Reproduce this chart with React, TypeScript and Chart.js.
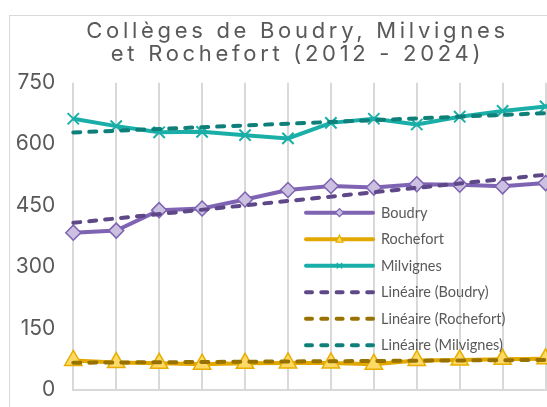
import React, { useEffect, useRef } from "react";
import { Chart, registerables } from "chart.js";

Chart.register(...registerables);

const TITLE_LINES = ["Collèges de Boudry, Milvignes", "et Rochefort (2012 - 2024)"];
const YEARS = ["2012", "2013", "2014", "2015", "2016", "2017", "2018", "2019", "2020", "2021", "2022", "2023", "2024"];
const BOUDRY = [384, 389, 439, 443, 465, 488, 498, 494, 502, 501, 497, 505, 510];
const ROCHEFORT = [72, 67, 65, 63, 65, 66, 66, 63, 72, 73, 75, 76, 77];
const MILVIGNES = [662, 644, 629, 630, 622, 614, 652, 662, 648, 667, 681, 692, 700];
// trend line end values (2012, 2024)
const TREND_BOUDRY = [408, 536];
const TREND_ROCHEFORT = [66.5, 74];
const TREND_MILVIGNES = [628.5, 680];
const Y_TICKS = [0, 150, 300, 450, 600, 750];
const SERIES_NAMES = ["Boudry", "Rochefort", "Milvignes", "Linéaire (Boudry)", "Linéaire (Rochefort)", "Linéaire (Milvignes)"];

const TEXT_COLOR = "#595959";
const GRID_COLOR = "#D9D9D9";

function drawMarker(ctx: CanvasRenderingContext2D, style: string, x: number, y: number, r: number) {
  ctx.beginPath();
  if (style === "rectRot") {
    ctx.moveTo(x, y - r);
    ctx.lineTo(x + r, y);
    ctx.lineTo(x, y + r);
    ctx.lineTo(x - r, y);
    ctx.closePath();
    ctx.fill();
    ctx.stroke();
  } else if (style === "triangle") {
    const h = r * 1.5;
    ctx.moveTo(x, y - h / 2 - 1);
    ctx.lineTo(x + r * 0.87, y + h / 2);
    ctx.lineTo(x - r * 0.87, y + h / 2);
    ctx.closePath();
    ctx.fill();
    ctx.stroke();
  } else if (style === "crossRot") {
    const d = r * 0.7;
    ctx.moveTo(x - d, y - d);
    ctx.lineTo(x + d, y + d);
    ctx.moveTo(x + d, y - d);
    ctx.lineTo(x - d, y + d);
    ctx.stroke();
  }
}

const titlePlugin = {
  id: "customTitle",
  afterDraw(chart: any) {
    const ctx: CanvasRenderingContext2D = chart.ctx;
    ctx.save();
    ctx.font = "400 22px Inter";
    (ctx as any).letterSpacing = "3.7px";
    ctx.fillStyle = TEXT_COLOR;
    ctx.textAlign = "center";
    ctx.textBaseline = "alphabetic";
    TITLE_LINES.forEach((line, i) => {
      ctx.fillText(line, 297.5, 37.5 + i * 23.7);
    });
    ctx.restore();
  },
};

const legendPlugin = {
  id: "overlayLegend",
  afterDraw(chart: any) {
    const ctx: CanvasRenderingContext2D = chart.ctx;
    const x0 = 304;
    const x1 = 375;
    const top = 212.7;
    const gap = 26.5;
    chart.data.datasets.forEach((ds: any, i: number) => {
      const y = top + i * gap;
      ctx.save();
      ctx.strokeStyle = ds.borderColor;
      ctx.lineWidth = 4;
      ctx.lineCap = "round";
      ctx.setLineDash(ds.borderDash ? [6, 9.3] : []);
      ctx.beginPath();
      ctx.moveTo(x0 + 2, y);
      ctx.lineTo(x1 - 2, y);
      ctx.stroke();
      ctx.setLineDash([]);
      if (ds.pointRadius > 0) {
        ctx.fillStyle = ds.pointBackgroundColor;
        ctx.strokeStyle = ds.pointBorderColor;
        ctx.lineWidth = 1.2;
        ctx.lineCap = "butt";
        drawMarker(ctx, ds.pointStyle, (x0 + x1) / 2, y, 4);
      }
      ctx.font = "14.5px Lato";
      ctx.fillStyle = TEXT_COLOR;
      ctx.textAlign = "left";
      ctx.textBaseline = "middle";
      ctx.fillText(SERIES_NAMES[i], 381, y + 0.5);
      ctx.restore();
    });
  },
};

export default function App() {
  const canvasRef = useRef<HTMLCanvasElement | null>(null);

  useEffect(() => {
    if (!canvasRef.current) return;
    const dash = [7, 9];
    const chart = new Chart(canvasRef.current, {
      type: "line",
      data: {
        labels: YEARS,
        datasets: [
          {
            label: SERIES_NAMES[0],
            data: BOUDRY,
            borderColor: "#8064B4",
            borderWidth: 4,
            pointStyle: "rectRot",
            pointRadius: 7.5,
            pointBackgroundColor: "#CBC0E0",
            pointBorderColor: "#7E62B2",
            pointBorderWidth: 1.5,
            order: 2,
          },
          {
            label: SERIES_NAMES[1],
            data: ROCHEFORT,
            borderColor: "#E2A800",
            borderWidth: 4,
            pointStyle: "triangle",
            pointRadius: 10,
            pointBackgroundColor: "#FFD966",
            pointBorderColor: "#E6AE00",
            pointBorderWidth: 1.5,
            order: 2,
          },
          {
            label: SERIES_NAMES[2],
            data: MILVIGNES,
            borderColor: "#19AFA8",
            borderWidth: 4,
            pointStyle: "crossRot",
            pointRadius: 8,
            pointBackgroundColor: "#19AFA8",
            pointBorderColor: "#19AFA8",
            pointBorderWidth: 2,
            order: 2,
          },
          {
            label: SERIES_NAMES[3],
            data: [
              { x: YEARS[0], y: TREND_BOUDRY[0] },
              { x: YEARS[YEARS.length - 1], y: TREND_BOUDRY[1] },
            ],
            borderColor: "#5E4888",
            borderWidth: 4,
            borderDash: dash,
            borderCapStyle: "round",
            pointRadius: 0,
            order: 1,
          },
          {
            label: SERIES_NAMES[4],
            data: [
              { x: YEARS[0], y: TREND_ROCHEFORT[0] },
              { x: YEARS[YEARS.length - 1], y: TREND_ROCHEFORT[1] },
            ],
            borderColor: "#977200",
            borderWidth: 4,
            borderDash: dash,
            borderCapStyle: "round",
            pointRadius: 0,
            order: 1,
          },
          {
            label: SERIES_NAMES[5],
            data: [
              { x: YEARS[0], y: TREND_MILVIGNES[0] },
              { x: YEARS[YEARS.length - 1], y: TREND_MILVIGNES[1] },
            ],
            borderColor: "#0F7F7A",
            borderWidth: 4,
            borderDash: dash,
            borderCapStyle: "round",
            pointRadius: 0,
            order: 1,
          },
        ] as any,
      },
      options: {
        responsive: false,
        animation: false,
        devicePixelRatio: 1,
        layout: { padding: { top: 82.7, bottom: 17, left: 0, right: 2 } },
        elements: { line: { tension: 0 } },
        datasets: { line: { clip: false } } as any,
        scales: {
          x: {
            type: "category",
            offset: false,
            grid: { display: true, color: GRID_COLOR, lineWidth: 2, drawTicks: false },
            border: { display: true, color: GRID_COLOR, width: 2 },
            ticks: { display: false },
            afterFit: (scale: any) => {
              scale.height = 0;
            },
          },
          y: {
            min: 0,
            max: 750,
            afterBuildTicks: (scale: any) => {
              scale.ticks = Y_TICKS.map((v) => ({ value: v }));
            },
            afterFit: (scale: any) => {
              scale.width = 73.3;
              scale.paddingTop = 0;
              scale.paddingBottom = 0;
            },
            grid: { display: false, drawTicks: false },
            border: { display: false },
            ticks: {
              padding: 18,
              color: TEXT_COLOR,
              font: { family: "Inter", size: 21, weight: "400" as any },
            },
          },
        },
        plugins: {
          legend: { display: false },
          tooltip: { enabled: false },
          title: { display: false },
        },
      },
      plugins: [titlePlugin, legendPlugin],
    });
    return () => chart.destroy();
  }, []);

  return (
    <div
      style={{
        position: "fixed",
        left: 0,
        top: 0,
        width: 547,
        height: 407,
        overflow: "hidden",
        background: "#ffffff",
      }}
    >
      <div
        style={{
          position: "absolute",
          left: 9,
          top: 15,
          width: 640,
          height: 520,
          border: "1px solid " + GRID_COLOR,
          boxSizing: "border-box",
        }}
      />
      <canvas
        ref={canvasRef}
        width={600}
        height={407}
        style={{ position: "absolute", left: 0, top: 0, display: "block" }}
      />
    </div>
  );
}
